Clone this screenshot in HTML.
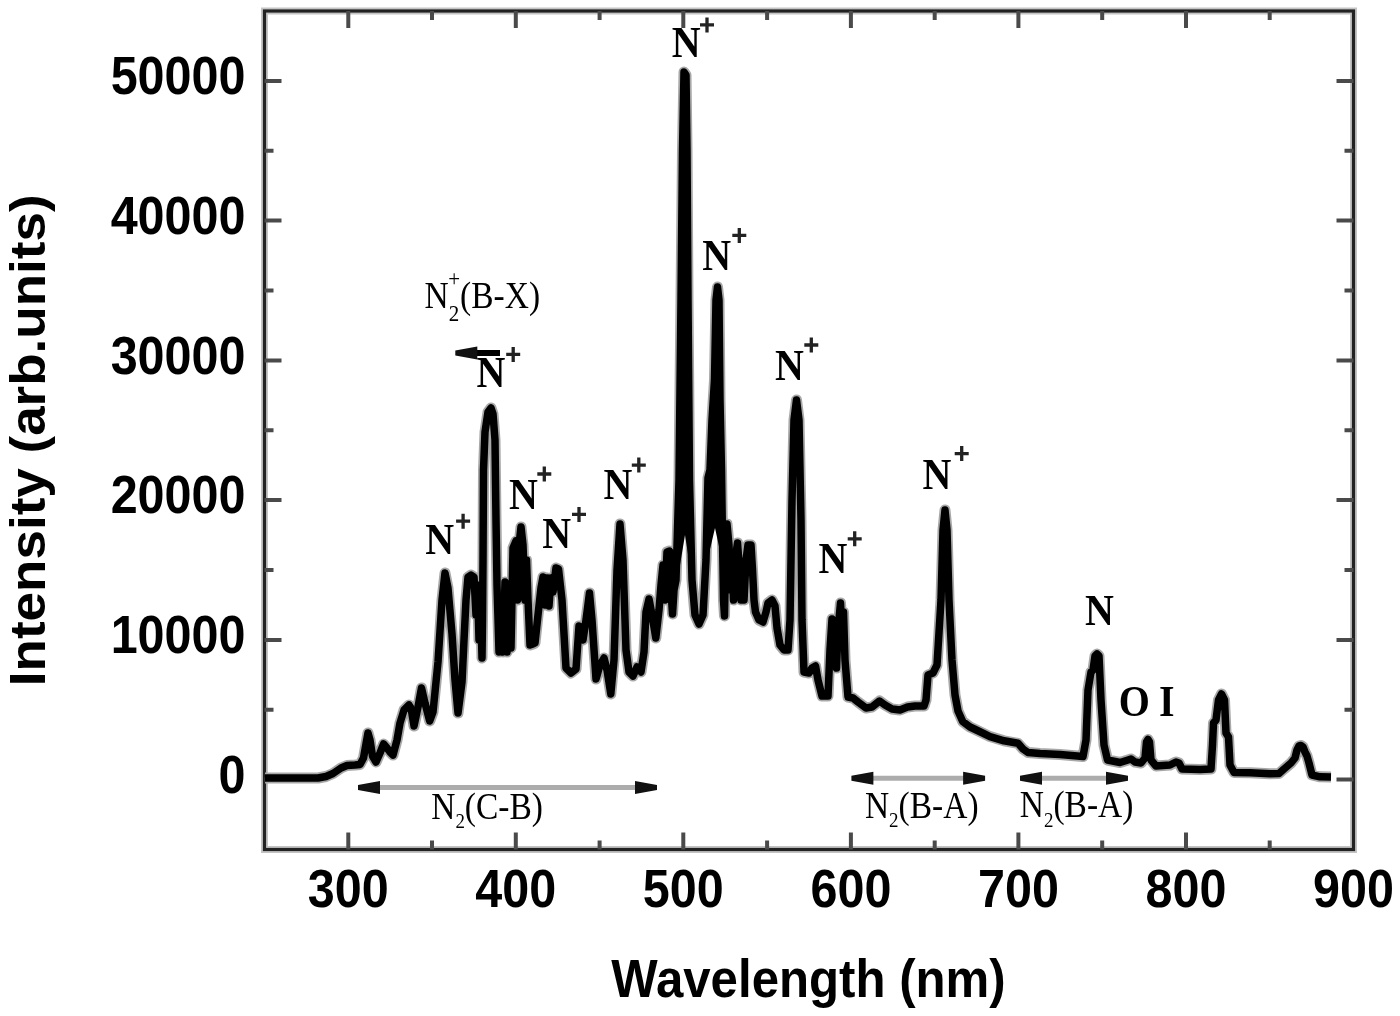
<!DOCTYPE html>
<html><head><meta charset="utf-8"><style>
html,body{margin:0;padding:0;background:#fff;overflow:hidden;width:1400px;height:1016px;}
svg{display:block;filter:blur(0.55px);}
.tl{font-family:"Liberation Sans",sans-serif;font-weight:bold;font-size:48.5px;fill:#000;}
.at{font-family:"Liberation Sans",sans-serif;font-weight:bold;font-size:49.2px;fill:#000;}
.at2{font-family:"Liberation Sans",sans-serif;font-weight:bold;font-size:50px;fill:#000;}
.nl{font-family:"Liberation Serif",serif;font-weight:bold;font-size:40px;fill:#000;}
.pl{font-family:"Liberation Serif",serif;font-weight:bold;font-size:28px;fill:#000;}
.sl{font-family:"Liberation Serif",serif;font-size:33.5px;fill:#000;}
.sb{font-size:19px;}
.sb2{font-size:21px;}
</style></head><body>
<svg width="1400" height="1016" viewBox="0 0 1400 1016">
<rect x="264.5" y="11.0" width="1089.0" height="838.5" fill="none" stroke="#c4c4c4" stroke-width="7"/>
<rect x="264.5" y="11.0" width="1089.0" height="838.5" fill="none" stroke="#222" stroke-width="3.2"/>
<path d="M348.3 849.5v-17M348.3 11.0v17M432 849.5v-9M432 11.0v9M515.8 849.5v-17M515.8 11.0v17M599.6 849.5v-9M599.6 11.0v9M683.3 849.5v-17M683.3 11.0v17M767.1 849.5v-9M767.1 11.0v9M850.9 849.5v-17M850.9 11.0v17M934.7 849.5v-9M934.7 11.0v9M1018.4 849.5v-17M1018.4 11.0v17M1102.2 849.5v-9M1102.2 11.0v9M1186 849.5v-17M1186 11.0v17M1269.7 849.5v-9M1269.7 11.0v9M264.5 779.6h17M1353.5 779.6h-17M264.5 709.8h9M1353.5 709.8h-9M264.5 639.9h17M1353.5 639.9h-17M264.5 570h9M1353.5 570h-9M264.5 500.1h17M1353.5 500.1h-17M264.5 430.2h9M1353.5 430.2h-9M264.5 360.4h17M1353.5 360.4h-17M264.5 290.5h9M1353.5 290.5h-9M264.5 220.6h17M1353.5 220.6h-17M264.5 150.8h9M1353.5 150.8h-9M264.5 80.9h17M1353.5 80.9h-17" stroke="#4a4a4a" stroke-width="4" fill="none"/>
<path d="M265 778 L318 778 L326 776.5 L333 773.5 L341 768 L347 765.5 L355 765 L360 764.5 L363.5 758 L366 744 L368 733 L370 740 L372.5 756 L376 762 L380 753 L383.6 744 L387 748 L390 752 L393 755 L397 740 L400 723 L404 710 L409 705 L411 708 L414 726 L418 707 L421.5 688 L425 703 L429.7 721 L433 712 L438 662 L442 600 L445 573 L448 588 L452 634 L455 680 L458 713 L462 682 L464 640 L466 600 L468 577 L471 575 L474 577 L476 615 L477.5 585 L479 640 L480.5 600 L482 658 L482.5 620 L483 560 L483.5 470 L485 432 L488 412 L491 408 L493 414 L495 440 L496 520 L497 585 L499 652 L501 598 L503 652 L505 582 L507 652 L509 598 L511 648 L513 548 L516 541 L517.5 600 L519 545 L521 527 L523 545 L525 600 L526.5 560 L528 600 L530 645 L533 644 L535 643 L538 615 L541 588 L543 577 L545 605 L547 578 L549 606 L551 578 L553 592 L556 568 L558.5 569 L562 600 L566 668 L571 673 L576 669 L579 626 L583 640 L586 620 L589.5 593 L592 620 L596 679 L600 665 L604 658 L607 670 L610.8 694 L614 660 L617 570 L620 524 L623 560 L626 650 L629 672 L633 676 L637 667 L641 672 L644 652 L646 612 L649 599 L652 615 L655.8 638 L659 610 L661 585 L663 565 L665 600 L667 552 L669.6 551 L671 590 L672.5 614 L674 590 L676 580 L679 480 L681 300 L682.5 150 L684 72 L686 75 L687 150 L688 300 L689.5 480 L692 580 L695 615 L699 624 L703 615 L706 560 L708 478 L710 470 L712 420 L714.5 380 L716 300 L717.5 287 L719 300 L720 400 L721.5 470 L722.5 540 L723.5 600 L724.5 616 L725.5 560 L727 524 L729 545 L730.5 590 L732 560 L733.5 600 L735 560 L737.5 543 L739.5 570 L741 600 L742.5 570 L744 600 L746 560 L748 545 L751 545 L752.5 570 L754 600 L755.5 612 L759 620 L763 622 L766 612 L768 603 L772 600 L775 606 L777 628 L780 645 L784 650 L788 650 L790 620 L792 500 L794 420 L796.5 400 L799 420 L801 520 L802 620 L804 672 L809 673 L812 668 L815.5 666 L818 680 L822 696 L828 696 L830 650 L832 619 L833.5 650 L835 625 L836.5 668 L838 630 L840.5 603 L842.5 640 L843.5 612 L845 660 L848 697 L853 698 L858 702 L866 708 L872 707 L879.5 701 L885 705 L892 709 L900 710 L907.5 707 L915 706 L924 706 L926 700 L928 675 L933 673 L937 665 L941 600 L943 530 L945 510 L947 530 L949 600 L952 660 L955 695 L958 711 L962.7 721.5 L970 727 L976.4 730 L990 736.6 L1004 740.8 L1018 743.3 L1023 749 L1028 752.5 L1040 753.5 L1060 754.4 L1083 756.5 L1086 740 L1088 690 L1091 672 L1093 670 L1095 656 L1097 654 L1099 656 L1101 700 L1104 745 L1107.5 760 L1120 762.5 L1128 760 L1131 759 L1135 762 L1141 763 L1145 758 L1146.5 742 L1148 739.5 L1149.5 742 L1151 760 L1156 766 L1170 765 L1176 762 L1179 763 L1182 769 L1200 769.4 L1211 769 L1212.5 745 L1213.5 723 L1216 720 L1218.5 700 L1221.5 694 L1224.5 700 L1226 733 L1228.5 737 L1230 765 L1234 772.5 L1250 772.8 L1270 773.8 L1279 773.5 L1284 769 L1291 763 L1295 758 L1297 750 L1299 746 L1301 745.5 L1303 747 L1305 752 L1307 756 L1309 763 L1312 775 L1320 776.8 L1331 777" fill="none" stroke="#a8a8a8" stroke-width="11" stroke-linejoin="round"/>
<path d="M265 778 L318 778 L326 776.5 L333 773.5 L341 768 L347 765.5 L355 765 L360 764.5 L363.5 758 L366 744 L368 733 L370 740 L372.5 756 L376 762 L380 753 L383.6 744 L387 748 L390 752 L393 755 L397 740 L400 723 L404 710 L409 705 L411 708 L414 726 L418 707 L421.5 688 L425 703 L429.7 721 L433 712 L438 662 L442 600 L445 573 L448 588 L452 634 L455 680 L458 713 L462 682 L464 640 L466 600 L468 577 L471 575 L474 577 L476 615 L477.5 585 L479 640 L480.5 600 L482 658 L482.5 620 L483 560 L483.5 470 L485 432 L488 412 L491 408 L493 414 L495 440 L496 520 L497 585 L499 652 L501 598 L503 652 L505 582 L507 652 L509 598 L511 648 L513 548 L516 541 L517.5 600 L519 545 L521 527 L523 545 L525 600 L526.5 560 L528 600 L530 645 L533 644 L535 643 L538 615 L541 588 L543 577 L545 605 L547 578 L549 606 L551 578 L553 592 L556 568 L558.5 569 L562 600 L566 668 L571 673 L576 669 L579 626 L583 640 L586 620 L589.5 593 L592 620 L596 679 L600 665 L604 658 L607 670 L610.8 694 L614 660 L617 570 L620 524 L623 560 L626 650 L629 672 L633 676 L637 667 L641 672 L644 652 L646 612 L649 599 L652 615 L655.8 638 L659 610 L661 585 L663 565 L665 600 L667 552 L669.6 551 L671 590 L672.5 614 L674 590 L676 580 L679 480 L681 300 L682.5 150 L684 72 L686 75 L687 150 L688 300 L689.5 480 L692 580 L695 615 L699 624 L703 615 L706 560 L708 478 L710 470 L712 420 L714.5 380 L716 300 L717.5 287 L719 300 L720 400 L721.5 470 L722.5 540 L723.5 600 L724.5 616 L725.5 560 L727 524 L729 545 L730.5 590 L732 560 L733.5 600 L735 560 L737.5 543 L739.5 570 L741 600 L742.5 570 L744 600 L746 560 L748 545 L751 545 L752.5 570 L754 600 L755.5 612 L759 620 L763 622 L766 612 L768 603 L772 600 L775 606 L777 628 L780 645 L784 650 L788 650 L790 620 L792 500 L794 420 L796.5 400 L799 420 L801 520 L802 620 L804 672 L809 673 L812 668 L815.5 666 L818 680 L822 696 L828 696 L830 650 L832 619 L833.5 650 L835 625 L836.5 668 L838 630 L840.5 603 L842.5 640 L843.5 612 L845 660 L848 697 L853 698 L858 702 L866 708 L872 707 L879.5 701 L885 705 L892 709 L900 710 L907.5 707 L915 706 L924 706 L926 700 L928 675 L933 673 L937 665 L941 600 L943 530 L945 510 L947 530 L949 600 L952 660 L955 695 L958 711 L962.7 721.5 L970 727 L976.4 730 L990 736.6 L1004 740.8 L1018 743.3 L1023 749 L1028 752.5 L1040 753.5 L1060 754.4 L1083 756.5 L1086 740 L1088 690 L1091 672 L1093 670 L1095 656 L1097 654 L1099 656 L1101 700 L1104 745 L1107.5 760 L1120 762.5 L1128 760 L1131 759 L1135 762 L1141 763 L1145 758 L1146.5 742 L1148 739.5 L1149.5 742 L1151 760 L1156 766 L1170 765 L1176 762 L1179 763 L1182 769 L1200 769.4 L1211 769 L1212.5 745 L1213.5 723 L1216 720 L1218.5 700 L1221.5 694 L1224.5 700 L1226 733 L1228.5 737 L1230 765 L1234 772.5 L1250 772.8 L1270 773.8 L1279 773.5 L1284 769 L1291 763 L1295 758 L1297 750 L1299 746 L1301 745.5 L1303 747 L1305 752 L1307 756 L1309 763 L1312 775 L1320 776.8 L1331 777" fill="none" stroke="#000" stroke-width="7.5" stroke-linejoin="round"/>
<path d="M679.2 570L681 300L682.5 150L684 72L686 75L687 150L688 300L690.5 570L685 535Z" fill="#000"/>
<path d="M707.5 560L710 470L713 420L716 300L717.5 287L719 300L721 420L722 560L715 528Z" fill="#000"/>
<text class="tl" transform="translate(245.5 792.8) scale(1.0 1.09)" text-anchor="end">0</text>
<text class="tl" transform="translate(245.5 653.1) scale(1.0 1.09)" text-anchor="end">10000</text>
<text class="tl" transform="translate(245.5 513.3) scale(1.0 1.09)" text-anchor="end">20000</text>
<text class="tl" transform="translate(245.5 373.6) scale(1.0 1.09)" text-anchor="end">30000</text>
<text class="tl" transform="translate(245.5 233.8) scale(1.0 1.09)" text-anchor="end">40000</text>
<text class="tl" transform="translate(245.5 94.1) scale(1.0 1.09)" text-anchor="end">50000</text>
<text class="tl" transform="translate(348.3 906.5) scale(1.0 1.09)" text-anchor="middle">300</text>
<text class="tl" transform="translate(515.8 906.5) scale(1.0 1.09)" text-anchor="middle">400</text>
<text class="tl" transform="translate(683.3 906.5) scale(1.0 1.09)" text-anchor="middle">500</text>
<text class="tl" transform="translate(850.9 906.5) scale(1.0 1.09)" text-anchor="middle">600</text>
<text class="tl" transform="translate(1018.4 906.5) scale(1.0 1.09)" text-anchor="middle">700</text>
<text class="tl" transform="translate(1186 906.5) scale(1.0 1.09)" text-anchor="middle">800</text>
<text class="tl" transform="translate(1353.5 906.5) scale(1.0 1.09)" text-anchor="middle">900</text>
<text class="at" transform="translate(808.5 996.5) scale(1.0 1.075)" text-anchor="middle">Wavelength (nm)</text>
<text class="at2" transform="translate(44.5 440.3) scale(1 1.06) rotate(-90)" text-anchor="middle">Intensity (arb.units)</text>
<text class="nl" transform="translate(425.2 553.9) scale(1.0 1.09)" text-anchor="start">N</text>
<text class="nl" transform="translate(476.6 387) scale(1.0 1.09)" text-anchor="start">N</text>
<text class="nl" transform="translate(509.1 508.8) scale(1.0 1.09)" text-anchor="start">N</text>
<text class="nl" transform="translate(542.2 547.5) scale(1.0 1.09)" text-anchor="start">N</text>
<text class="nl" transform="translate(603.4 499.1) scale(1.0 1.09)" text-anchor="start">N</text>
<text class="nl" transform="translate(671.8 57.2) scale(1.0 1.09)" text-anchor="start">N</text>
<text class="nl" transform="translate(702.2 269.9) scale(1.0 1.09)" text-anchor="start">N</text>
<text class="nl" transform="translate(775 380.3) scale(1.0 1.09)" text-anchor="start">N</text>
<text class="nl" transform="translate(818.4 573) scale(1.0 1.09)" text-anchor="start">N</text>
<text class="nl" transform="translate(922.5 488.8) scale(1.0 1.09)" text-anchor="start">N</text>
<path d="M456.1 521.2h14M463.1 513.7v15M506.2 354.4h14M513.2 346.9v15M537.3 474h14M544.3 466.5v15M572 514.4h14M579 506.9v15M631.8 465.1h14M638.8 457.6v15M700 24.9h14M707 17.4v15M732.3 235.4h14M739.3 227.9v15M804.3 345h14M811.3 337.5v15M847.7 538.8h14M854.7 531.3v15M954.7 453.6h14M961.7 446.1v15" stroke="#222" stroke-width="3.3" fill="none"/>
<text class="nl" transform="translate(1085 624.8) scale(1.0 1.09)" text-anchor="start">N</text>
<text class="nl" transform="translate(1118.8 716.3) scale(1.0 1.09)" text-anchor="start">O</text>
<text class="nl" transform="translate(1159.1 716.3) scale(1.0 1.09)" text-anchor="start">I</text>
<text class="sl" transform="translate(424.6 307.6) scale(1.0 1.12)" text-anchor="start">N<tspan class="sb2" dy="12">2</tspan><tspan class="sb2" dx="-11" dy="-31">+</tspan><tspan dy="19">(B-X)</tspan></text>
<text class="sl" transform="translate(431.2 818.7) scale(1.0 1.12)" text-anchor="start">N<tspan class="sb" dy="8.5">2</tspan><tspan dy="-8.5">(C-B)</tspan></text>
<text class="sl" transform="translate(864.9 817.5) scale(1.0 1.12)" text-anchor="start">N<tspan class="sb" dy="8.5">2</tspan><tspan dy="-8.5">(B-A)</tspan></text>
<text class="sl" transform="translate(1019.8 817.2) scale(1.0 1.12)" text-anchor="start">N<tspan class="sb" dy="8.5">2</tspan><tspan dy="-8.5">(B-A)</tspan></text>
<path d="M378 787.5H637" stroke="#acacac" stroke-width="5"/><path d="M358 785.0L380 781.0L380 794.0L358 790.0Z" fill="#111"/><path d="M657 785.0L635 781.0L635 794.0L657 790.0Z" fill="#111"/>
<path d="M871.4 778.3H965.1" stroke="#acacac" stroke-width="5"/><path d="M851.4 775.8L873.4 771.8L873.4 784.8L851.4 780.8Z" fill="#111"/><path d="M985.1 775.8L963.1 771.8L963.1 784.8L985.1 780.8Z" fill="#111"/>
<path d="M1040 778.3H1108" stroke="#acacac" stroke-width="5"/><path d="M1020 775.8L1042 771.8L1042 784.8L1020 780.8Z" fill="#111"/><path d="M1128 775.8L1106 771.8L1106 784.8L1128 780.8Z" fill="#111"/>
<path d="M475.3 353H500" stroke="#000" stroke-width="6"/><path d="M455.3 350.5L477.3 346.5L477.3 359.5L455.3 355.5Z" fill="#111"/>
</svg>
</body></html>
